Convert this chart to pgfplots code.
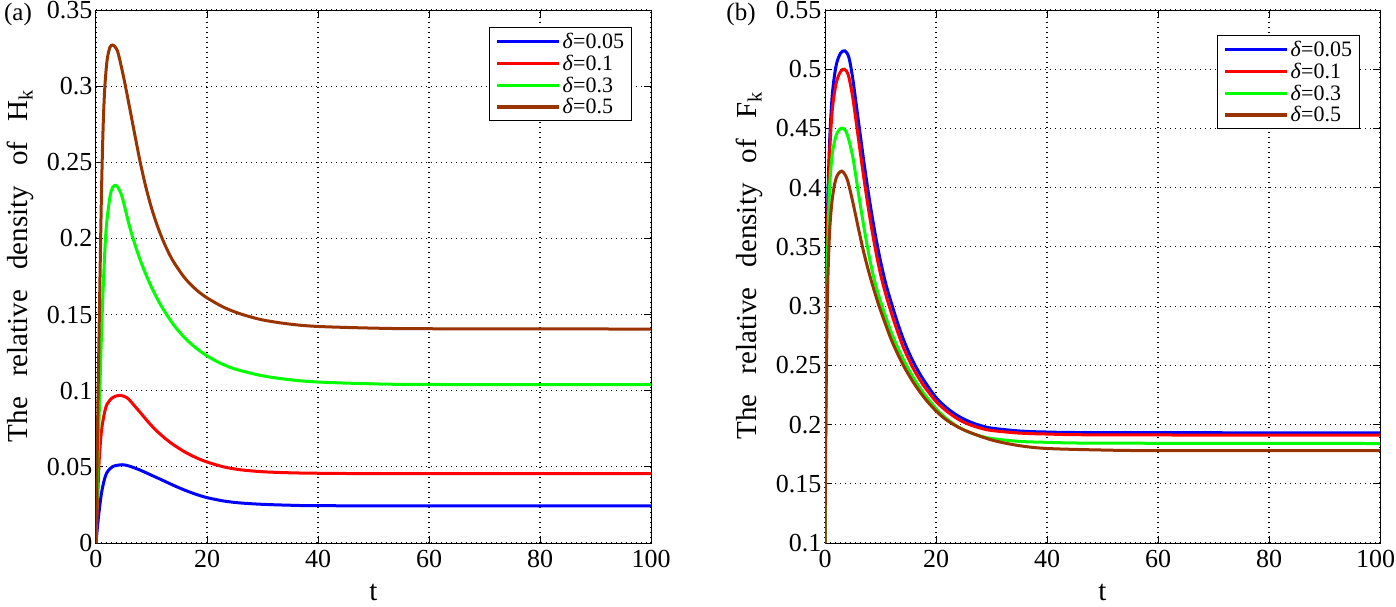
\documentclass[border=0pt]{standalone}
\usepackage{fontspec}
\setmainfont{Liberation Serif}
\usepackage{pgfplots}
\pgfplotsset{compat=1.18}
\definecolor{cblue}{RGB}{0,0,255}
\definecolor{cred}{RGB}{255,0,0}
\definecolor{cgreen}{RGB}{0,255,0}
\definecolor{cbrown}{RGB}{153,51,0}
\newcommand{\gap}{\hspace{13pt} }
\pgfplotsset{
  myax/.style={
    scale only axis, width=555pt, height=533pt,
    xmin=0, xmax=100, xtick={0,20,40,60,80,100},
    grid=major,
    grid style={black, line width=1.1pt, dash pattern=on 1.1pt off 3.9pt},
    axis line style={black, line width=1pt},
    tick align=inside, major tick length=7pt,
    tick style={black, line width=1pt},
    ticklabel style={font=\fontsize{26}{28}\selectfont},
    xticklabel style={yshift=-4pt},
    /pgf/number format/assume math mode=true,
    label style={font=\fontsize{29}{31}\selectfont},
    xlabel={t},
    xlabel style={at={(axis description cs:0.5,-0.108)}, anchor=base, font=\fontsize{29}{31}\selectfont},
    ylabel style={at={(axis description cs:-0.137,0.52)}, anchor=center},
    legend style={font=\fontsize{22}{22}\selectfont, draw=black, line width=1pt,
      nodes={inner sep=1.5pt}, cells={anchor=west}, inner xsep=6pt, inner ysep=4pt, row sep=2pt},
    legend image code/.code={\draw[#1, line width=3.2pt] (0pt,0pt) -- (62pt,0pt);},
    every axis plot/.append style={line width=3pt, smooth, tension=0.5},
  }
}
\begin{document}
\begin{tikzpicture}
\useasboundingbox (-96pt,-63pt) rectangle (1300pt,543pt);
\begin{axis}[myax, at={(0pt,0pt)}, anchor=south west,
  ymin=0, ymax=0.35, ytick={0,0.05,0.1,0.15,0.2,0.25,0.3,0.35},
  yticklabels={0,0.05,0.1,0.15,0.2,0.25,0.3,0.35},
  xticklabels={0,20,40,60,80,100},
  ylabel={The\gap relative\gap density\gap of\gap H\textsubscript{k}},
  legend style={at={(1,1)}, anchor=north east, xshift=-19pt, yshift=-17pt}]
\addplot[cblue] coordinates {(0,0) (0.3,0.012) (0.6,0.022) (1,0.033) (1.5,0.0415) (2,0.0465) (3,0.0502) (4.7,0.0514) (6,0.0505) (8,0.0478) (10,0.0445) (12,0.0412) (14,0.0378) (16,0.0347) (18,0.0320) (20,0.0298) (23,0.0276) (26,0.0263) (30,0.0254) (35,0.0248) (40,0.0245) (60,0.0244) (100,0.0244)};
\addlegendentry{\textit{δ}=0.05}
\addplot[cred] coordinates {(0,0) (0.3,0.03) (0.6,0.056) (1,0.074) (1.5,0.085) (2,0.0912) (3,0.0955) (4.3,0.097) (5.5,0.0956) (6.2,0.0932) (7,0.0898) (8,0.0856) (9,0.0812) (10,0.0771) (11,0.0734) (12,0.0701) (13,0.0671) (14,0.0644) (16,0.0598) (18,0.0561) (20,0.0532) (23,0.0500) (26,0.0481) (30,0.0468) (35,0.0461) (40,0.0458) (50,0.0456) (100,0.0455)};
\addlegendentry{\textit{δ}=0.1}
\addplot[cgreen] coordinates {(0,0) (0.25,0.04) (0.5,0.075) (0.9,0.127) (1.3,0.168) (1.8,0.205) (2.5,0.227) (3.0,0.2335) (3.6,0.2348) (4.2,0.232) (4.8,0.226) (6,0.2085) (7,0.1962) (8,0.1855) (9,0.1762) (10,0.168) (11,0.1607) (12,0.1542) (14,0.1432) (16,0.1347) (18,0.1281) (20,0.1229) (22,0.1188) (25,0.1143) (30,0.1098) (35,0.1072) (40,0.1057) (50,0.1045) (60,0.1041) (100,0.104)};
\addlegendentry{\textit{δ}=0.3}
\addplot[cbrown] coordinates {(0,0) (0.3,0.08) (0.7,0.17) (1.0,0.232) (1.3,0.275) (1.6,0.3) (2.0,0.317) (2.5,0.3255) (3.0,0.327) (3.5,0.3255) (4.0,0.3215) (5,0.3055) (6,0.2870) (7,0.2680) (8,0.2495) (9,0.2335) (10,0.2200) (11,0.2088) (12,0.1993) (13,0.1913) (14,0.1845) (16,0.1740) (18,0.1665) (20,0.1610) (23,0.1548) (26,0.1505) (30,0.1465) (35,0.1437) (40,0.1422) (50,0.1411) (60,0.1407) (100,0.1405)};
\addlegendentry{\textit{δ}=0.5}
\end{axis}
\begin{axis}[myax, at={(729pt,0pt)}, anchor=south west,
  ymin=0.1, ymax=0.55, ytick={0.1,0.15,0.2,0.25,0.3,0.35,0.4,0.45,0.5,0.55},
  yticklabels={0.1,0.15,0.2,0.25,0.3,0.35,0.4,0.45,0.5,0.55},
  xticklabels={0,20,40,60,80,{\hspace*{-9pt}100}},
  ylabel={The\gap relative\gap density\gap of\gap F\textsubscript{k}},
  legend style={at={(1,1)}, anchor=north east, xshift=-20pt, yshift=-25pt}]
\addplot[cblue] coordinates {(0,0.1) (0.15,0.245) (0.4,0.365) (0.8,0.435) (1.3,0.478) (2.0,0.503) (2.8,0.5135) (3.6,0.5155) (4.3,0.51) (5.0,0.492) (6.0,0.457) (7.0,0.422) (8.0,0.39) (9.0,0.362) (10.0,0.338) (11.0,0.318) (12.0,0.302) (13,0.287) (14,0.2735) (15,0.262) (16,0.252) (17,0.2435) (18,0.236) (20,0.2228) (22,0.2138) (24,0.2072) (26,0.2025) (28,0.1992) (30,0.197) (35,0.1946) (40,0.1937) (50,0.1932) (100,0.193)};
\addlegendentry{\textit{δ}=0.05}
\addplot[cred] coordinates {(0,0.1) (0.15,0.24) (0.4,0.355) (0.8,0.425) (1.3,0.465) (2.0,0.488) (2.8,0.498) (3.5,0.5) (4.2,0.495) (5.0,0.476) (6.0,0.442) (7.0,0.408) (8.0,0.377) (9.0,0.35) (10.0,0.327) (11.0,0.309) (12.0,0.2935) (13,0.2795) (14,0.2665) (15,0.256) (16,0.2465) (17,0.2385) (18,0.2315) (20,0.2195) (22,0.211) (24,0.2045) (26,0.2) (28,0.197) (30,0.195) (35,0.1928) (40,0.192) (50,0.1913) (100,0.191)};
\addlegendentry{\textit{δ}=0.1}
\addplot[cgreen] coordinates {(0,0.1) (0.15,0.22) (0.4,0.33) (0.8,0.397) (1.3,0.428) (2.0,0.444) (2.7,0.4495) (3.3,0.45) (4.0,0.445) (5.0,0.426) (6.0,0.396) (7.0,0.367) (8.0,0.341) (9.0,0.32) (10.0,0.304) (11,0.29) (12,0.277) (13,0.266) (14,0.256) (15,0.247) (16,0.239) (17,0.2315) (18,0.225) (20,0.2135) (22,0.2045) (24,0.198) (26,0.1935) (28,0.1903) (30,0.1882) (35,0.1858) (40,0.185) (50,0.1843) (100,0.184)};
\addlegendentry{\textit{δ}=0.3}
\addplot[cbrown] coordinates {(0,0.1) (0.15,0.2) (0.4,0.3) (0.8,0.36) (1.3,0.39) (2.0,0.408) (3.0,0.414) (4.0,0.407) (5.0,0.388) (6.0,0.366) (7.0,0.345) (8.0,0.327) (9.0,0.311) (10.0,0.2965) (12.0,0.271) (14.0,0.251) (16.0,0.235) (18.0,0.222) (20,0.2115) (22,0.2035) (25,0.1955) (30,0.187) (35,0.1822) (40,0.1798) (50,0.1785) (60,0.178) (100,0.178)};
\addlegendentry{\textit{δ}=0.5}
\end{axis}
\node[font=\fontsize{25}{27}\selectfont] at (-78pt,529pt) {(a)};
\node[font=\fontsize{25}{27}\selectfont] at (645pt,529pt) {(b)};
\end{tikzpicture}
\end{document}
